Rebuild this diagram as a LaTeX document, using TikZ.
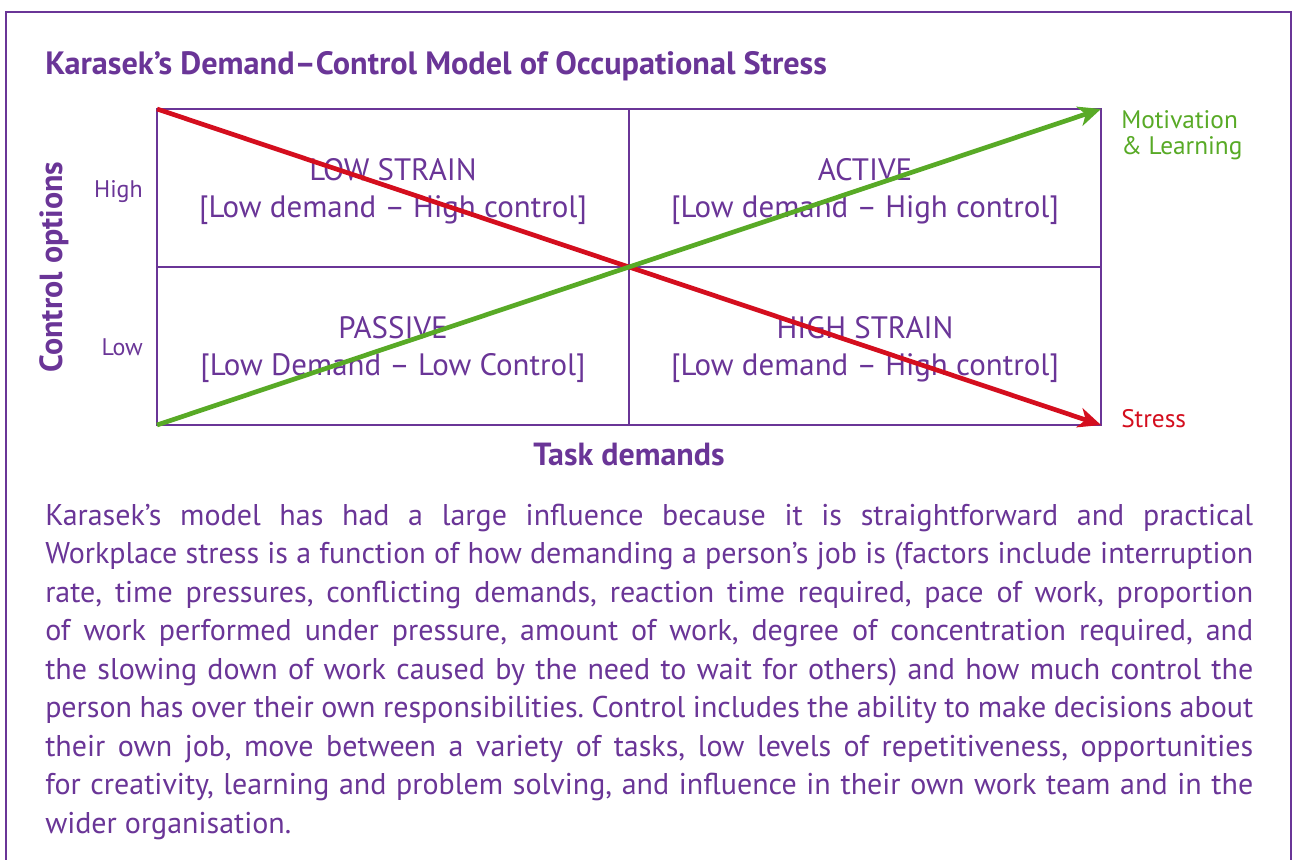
\documentclass[tikz,border=0pt]{standalone}
\usepackage{fontspec}
\setmainfont{PT Sans}
\usetikzlibrary{arrows.meta}
\definecolor{kpurple}{RGB}{106,53,151}
\definecolor{kgreen}{RGB}{88,170,38}
\definecolor{kred}{RGB}{212,14,30}
\newcommand\quadlabel[5]{\node[anchor=base] (#1) at (#2,#3) {#4};
  \node[anchor=base] (#1sub) at (#2,#3+37) {#5};}

\begin{document}
\begin{tikzpicture}[x=0.75pt,y=-0.75pt,inner sep=0pt,text=kpurple,
  font=\fontsize{23.2}{27}\selectfont,
  gridline/.style={draw=kpurple,line width=1.5pt},
  trend/.style={line width=3.5pt,-{Stealth[length=17pt,width=15pt,inset=5pt]}}]
\useasboundingbox[fill=white] (0,0) rectangle (1292,860);
\draw[kpurple,line width=1.8pt] (6,880) -- (6,12) -- (1291,12) -- (1291,880);
\node[anchor=base west,font=\fontsize{24.2}{28}\selectfont\bfseries] (title) at (45,74)
  {Karasek’s Demand--Control Model of Occupational Stress};
% quadrants
\coordinate (nw) at (157,109);
\coordinate (ne) at (1101,109);
\coordinate (sw) at (157,425);
\coordinate (se) at (1101,425);
\coordinate (tm) at (629,109);
\coordinate (bm) at (629,425);
\coordinate (lm) at (157,267);
\coordinate (rm) at (1101,267);
\quadlabel{lowstrain}{393}{180}{LOW STRAIN}{[Low demand -- High control]}
\quadlabel{active}{865}{180}{ACTIVE}{[Low demand -- High control]}
\quadlabel{passive}{393}{338}{PASSIVE}{[Low Demand -- Low Control]}
\quadlabel{highstrain}{865}{338}{HIGH STRAIN}{[Low demand -- High control]}
\draw[gridline] (nw) rectangle (se);
\draw[gridline] (tm) -- (bm);
\draw[gridline] (lm) -- (rm);
% axes
\node[anchor=base east,font=\fontsize{18}{21}\selectfont] (high) at (143,197) {High};
\node[anchor=base east,font=\fontsize{18}{21}\selectfont] (low) at (143,355) {Low};
\node[anchor=base,rotate=90,font=\fontsize{24}{27}\selectfont\bfseries] (ctrl) at (62,267) {Control options};
\node[anchor=base,font=\fontsize{24}{27}\selectfont\bfseries] (task) at (629,465) {Task demands};
% outcomes
\node[anchor=base west,text=kgreen,font=\fontsize{19}{21}\selectfont] (motiv) at (1121,128) {Motivation};
\node[anchor=base west,text=kgreen,font=\fontsize{19}{21}\selectfont] (learn) at (1121,154) {\& Learning};
\node[anchor=base west,text=kred,font=\fontsize{19}{21}\selectfont] (stress) at (1121,427) {Stress};
\draw[trend,kred] (nw) -- (se);
\draw[trend,kgreen] (sw) -- (ne);
% text
\node[anchor=base west] (body) at (45,525) {\parbox[t]{906pt}{\hyphenpenalty=10000
  \frenchspacing\fontsize{22.5}{28.9}\selectfont
  Karasek’s model has had a large influence because it is straightforward and practical\linebreak
  Workplace stress is a function of how demanding a person’s job is (factors include interruption\linebreak
  rate, time pressures, conflicting demands, reaction time required, pace of work, proportion\linebreak
  of work performed under pressure, amount of work, degree of concentration required, and\linebreak
  the slowing down of work caused by the need to wait for others) and how much control the\linebreak
  person has over their own responsibilities. Control includes the ability to make decisions about\linebreak
  their own job, move between a variety of tasks, low levels of repetitiveness, opportunities\linebreak
  for creativity, learning and problem solving, and influence in their own work team and in the\linebreak
  wider organisation.}};
\end{tikzpicture}
\end{document}
